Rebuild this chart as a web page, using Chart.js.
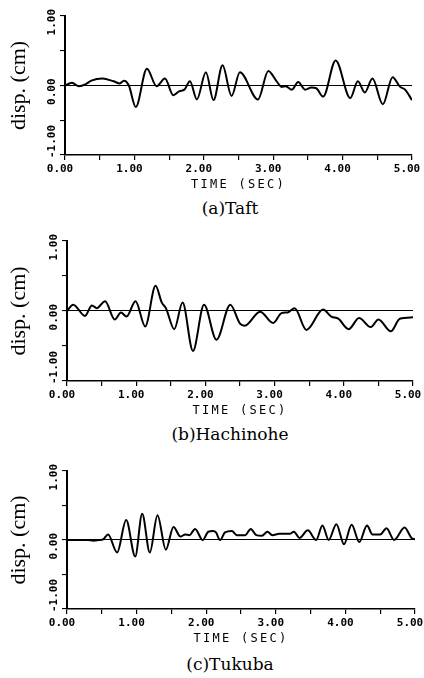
<!DOCTYPE html>
<html><head><meta charset="utf-8">
<script src="https://cdn.jsdelivr.net/npm/chart.js@4"></script>
<style>
html,body{margin:0;padding:0;background:#fff;width:424px;height:678px;overflow:hidden}
.c{position:absolute;left:0;width:424px}
.cap{position:absolute;left:230px;font-family:'DejaVu Serif';font-size:17px;line-height:18px;color:#000;white-space:nowrap;transform:translateX(-50%)}
</style></head><body>
<div class="c" style="top:0;height:192px"><canvas id="c0"></canvas></div>
<div class="cap" style="top:199px">(a)Taft</div>
<div class="c" style="top:225px;height:193px"><canvas id="c1"></canvas></div>
<div class="cap" style="top:425px">(b)Hachinohe</div>
<div class="c" style="top:455px;height:191px"><canvas id="c2"></canvas></div>
<div class="cap" style="top:655px">(c)Tukuba</div>
<script>
// ---- data ----
const xTickLabels = ['0.00','1.00','2.00','3.00','4.00','5.00'];
const yTickValues = [-1, 0, 1];
const yTickLabels = ['-1.00','0.00','1.00'];
const xTitle = 'TIME (SEC)';
const yTitle = 'disp. (cm)';

const taftT = [0,0.1,0.2,0.3,0.38,0.54,0.70,0.79,0.85,0.92,1.02,1.18,1.32,1.44,1.56,1.65,1.72,1.80,1.90,2.03,2.14,2.27,2.40,2.52,2.78,2.93,3.05,3.12,3.18,3.27,3.36,3.46,3.55,3.62,3.72,3.90,4.11,4.22,4.32,4.43,4.58,4.72,4.83,4.90,5.0];
const taftV = [0,0.04,-0.01,0.02,0.07,0.10,0.06,0.03,0.07,0.0,-0.31,0.24,-0.01,0.10,-0.14,-0.08,-0.06,0.06,-0.20,0.19,-0.21,0.29,-0.15,0.19,-0.20,0.21,0.06,-0.02,-0.01,-0.06,0.05,-0.06,-0.03,-0.04,-0.16,0.36,-0.18,0.06,-0.10,0.10,-0.27,0.12,-0.02,-0.06,-0.21];

const hachT = [0,0.09,0.26,0.36,0.43,0.55,0.69,0.78,0.86,0.99,1.13,1.28,1.37,1.43,1.55,1.67,1.82,1.98,2.16,2.36,2.50,2.57,2.79,2.98,3.10,3.19,3.29,3.46,3.70,3.82,3.92,4.07,4.22,4.39,4.50,4.68,4.81,5.0];
const hachV = [0,0.09,-0.07,0.08,0.04,0.14,-0.12,-0.02,-0.08,0.14,-0.22,0.36,0.12,0.04,-0.26,0.12,-0.57,0.09,-0.41,0.09,-0.18,-0.21,-0.01,-0.17,-0.03,-0.02,0.04,-0.27,0.02,-0.08,-0.11,-0.26,-0.10,-0.23,-0.12,-0.29,-0.11,-0.09];

const tukuT = [0,0.3,0.38,0.46,0.52,0.59,0.72,0.85,0.98,1.08,1.19,1.30,1.42,1.53,1.63,1.70,1.76,1.84,1.95,2.03,2.10,2.14,2.20,2.27,2.37,2.44,2.56,2.64,2.72,2.80,2.88,2.95,3.05,3.20,3.26,3.34,3.46,3.58,3.67,3.76,3.87,3.98,4.09,4.20,4.31,4.39,4.50,4.59,4.70,4.85,4.95,5.0];
const tukuV = [0,0,-0.01,0,0.01,0.08,-0.18,0.29,-0.24,0.38,-0.18,0.36,-0.14,0.19,0.05,0.08,0.07,0.16,0.0,0.12,0.13,0.11,0.0,0.11,0.13,0.07,0.07,0.16,0.07,0.06,0.12,0.07,0.09,0.09,0.12,0.03,0.14,0.0,0.21,0.0,0.23,-0.06,0.22,-0.03,0.21,0.08,0.08,0.17,0.0,0.18,0.03,0.01];

// ---- plugins ----
const yLabelPlugin = {
  id: 'yLabels',
  afterDraw(chart) {
    const ctx = chart.ctx, s = chart.scales.y, a = chart.chartArea;
    ctx.save();
    ctx.font = 'bold 11px "DejaVu Sans Mono"';
    ctx.fillStyle = '#000';
    ctx.textBaseline = 'middle';
    yTickValues.forEach((val, i) => {
      const y = s.getPixelForValue(val);
      const isMin = val === s.min;
      ctx.save();
      ctx.translate(a.left - 13, isMin ? y + 3 : y - 7);
      ctx.rotate(-Math.PI / 2);
      ctx.textAlign = isMin ? 'left' : 'right';
      ctx.fillText(yTickLabels[i], 0, 0);
      ctx.restore();
    });
    ctx.restore();
  }
};
const spacedTitle = {
  id: 'spacedTitle',
  beforeDraw(chart) {
    const s = chart.scales.x;
    if (!s._spaced) {
      const orig = s.drawTitle;
      s.drawTitle = function () {
        const ctx = this.ctx;
        ctx.save();
        ctx.letterSpacing = '2.3px';
        orig.call(this);
        ctx.restore();
      };
      s._spaced = true;
    }
  }
};

const tickFont = {family: 'DejaVu Sans Mono', size: 11, weight: 'bold'};

function makeChart(id, t, v, left, right) {
  return new Chart(document.getElementById(id), {
    type: 'line',
    data: {datasets: [{
      data: t.map((x, i) => ({x: x, y: v[i]})),
      borderColor: '#000', borderWidth: 2, pointRadius: 0,
      cubicInterpolationMode: 'monotone', fill: false
    }]},
    options: {
      responsive: true, maintainAspectRatio: false, animation: false,
      layout: {padding: {top: 16, right: right, bottom: 0, left: 0}},
      plugins: {legend: {display: false}, tooltip: {enabled: false}},
      scales: {
        x: {
          type: 'linear', min: 0, max: 5,
          ticks: {stepSize: 0.5, autoSkip: false, maxRotation: 0, padding: 3, labelOffset: -5,
            font: tickFont, color: '#000',
            callback: (val) => Number.isInteger(val) ? xTickLabels[val] : ''},
          grid: {drawOnChartArea: false, color: '#000', lineWidth: 1.2, tickLength: 5},
          border: {display: true, color: '#000', width: 1.6},
          title: {display: true, text: xTitle, font: {family: 'DejaVu Sans Mono', size: 12}, color: '#000', padding: {top: 0, bottom: 0}},
          afterFit: (s) => { s.height = 37; s.paddingLeft = 0; s.paddingRight = 0; }
        },
        y: {
          min: -1, max: 1,
          ticks: {stepSize: 0.5, display: false},
          grid: {color: (c) => (c.tick && c.tick.value === 0) ? '#000' : 'rgba(0,0,0,0)', tickColor: '#000', lineWidth: 1.1, tickLength: 5},
          border: {display: true, color: '#000', width: 2},
          title: {display: true, text: yTitle, font: {family: 'Liberation Serif', size: 22}, color: '#000', padding: {top: 6, bottom: 0}},
          afterFit: (s) => { s.width = left; s.paddingTop = 0; s.paddingBottom = 0; }
        }
      }
    },
    plugins: [yLabelPlugin, spacedTitle]
  });
}

makeChart('c0', taftT, taftV, 65, 12);
makeChart('c1', hachT, hachV, 67, 11);
makeChart('c2', tukuT, tukuV, 67, 9);
</script>
</body></html>
